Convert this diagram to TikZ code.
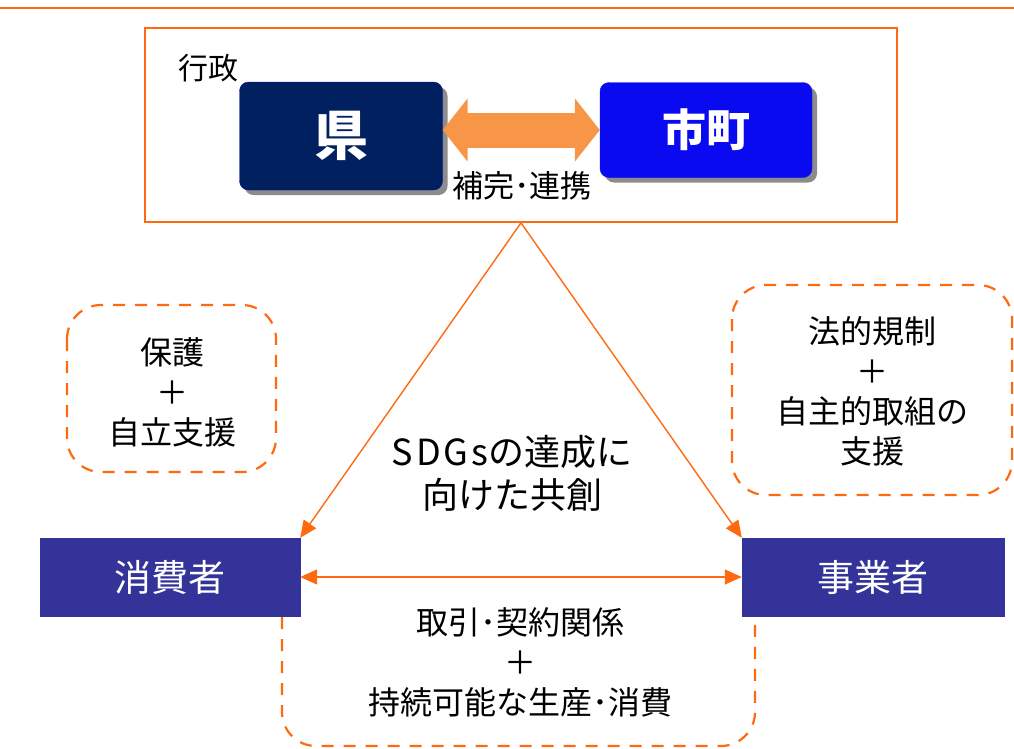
\documentclass[tikz,border=0pt]{standalone}
\usepackage{fontspec}
\setmainfont{Noto Sans CJK JP}
\usetikzlibrary{arrows.meta,shadows}

\definecolor{lineorange}{HTML}{FF6A10}
\definecolor{arroworange}{HTML}{F79646}
\definecolor{kennavy}{HTML}{002060}
\definecolor{cityblue}{HTML}{0A0AF0}
\definecolor{actorblue}{HTML}{333399}

\begin{document}
\begin{tikzpicture}[x=1pt, y=-1pt,
    govbox/.style={rounded corners=9pt, minimum width=#1, text=white,
      drop shadow={shadow xshift=5pt, shadow yshift=-5pt, fill=black, opacity=0.45}},
    actorbox/.style={fill=actorblue, draw=actorblue, minimum width=#1, minimum height=78pt,
      text=white, font=\fontsize{37}{40}\selectfont},
    hopebox/.style={draw=lineorange, line width=2.2pt, dash pattern=on 12pt off 10pt, rounded corners=34pt},
    note/.style={align=center, font=\fontsize{32}{40}\selectfont},
    link/.style={lineorange, line width=1.4pt, {Triangle[length=17pt,width=15pt]}-{Triangle[length=17pt,width=15pt]}},
  ]
  \useasboundingbox (0,0) rectangle (1014,748);

  % Top rule
  \draw[lineorange, line width=2pt] (0,8) -- (1014,8);

  % Administration frame
  \node[draw=lineorange, line width=1.6pt, minimum width=752pt, minimum height=194pt] (gyosei) at (521,125) {};
  \node[font=\fontsize{30}{32}\selectfont] (gyoseilabel) at (208,68) {行政};

  % Prefecture and municipalities
  \node[govbox=203pt, fill=kennavy, draw=kennavy!60!blue, minimum height=108pt, font=\bfseries\fontsize{54}{56}\selectfont] (ken) at (341,136) {県};
  \node[govbox=212pt, fill=cityblue, draw=cityblue, minimum height=95pt, font=\bfseries\fontsize{44}{46}\selectfont] (shicho) at (706,130) {市町};
  \draw[arroworange, line width=35pt, {Triangle[length=25pt,width=62pt]}-{Triangle[length=25pt,width=62pt]}] (ken.east |- 0,130) -- (shicho.west |- 0,130);
  \node[font=\fontsize{31}{34}\selectfont] (hokan) at (522,186) {補完･連携};

  % Consumers and businesses
  \node[actorbox=260pt] (shohisha) at (170,577) {消費者};
  \node[actorbox=262pt] (jigyosha) at (873,577) {事業者};

  % Triangle of co-creation
  \draw[lineorange, line width=1.4pt, -{Triangle[length=17pt,width=15pt]}] (gyosei.south) -- (shohisha.north east);
  \draw[lineorange, line width=1.4pt, -{Triangle[length=17pt,width=15pt]}] (gyosei.south) -- (jigyosha.north west);
  \draw[link] (shohisha.east) -- (jigyosha.west);

  % Dashed notes
  \draw[hopebox] (67,305) rectangle (276,472);
  \draw[hopebox] (732,285) rectangle (1012,495);
  \draw[hopebox] (282,617) -- (282,746) -- (755,746) -- (755,617);

  \node[note] (hogo) at (172,392) {保護\\＋\\自立支援};
  \node[note] (kisei) at (872,391) {法的規制\\＋\\自主的取組の\\支援};
  \node[note, font=\fontsize{36}{43}\selectfont] (sdgs) at (512,473) {{\addfontfeature{LetterSpace=8}SDGs}の達成に\\向けた共創};
  \node[note] (torihiki) at (520,662) {取引･契約関係\\＋\\持続可能な生産･消費};
\end{tikzpicture}
\end{document}
